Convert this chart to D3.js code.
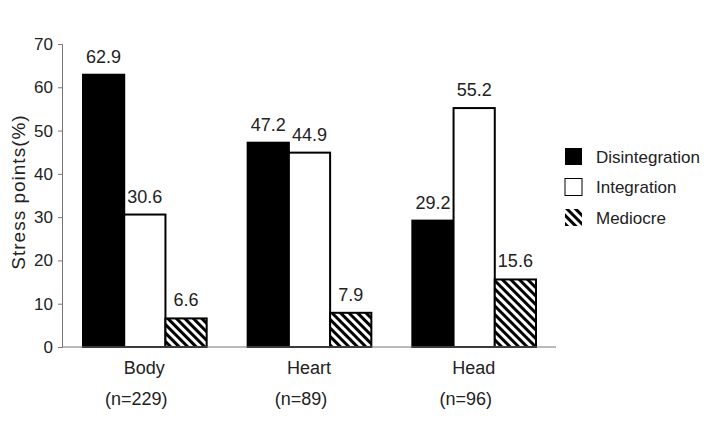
<!DOCTYPE html>
<html>
<head>
<meta charset="utf-8">
<script src="https://cdn.jsdelivr.net/npm/d3@7"></script>
<style>
  body { margin: 0; background: #fff; }
  text { font-family: "Liberation Sans", Arial, sans-serif; fill: #222; }
</style>
</head>
<body>
<div id="chart"></div>
<script>
// data
let groups = ["Body", "Heart", "Head"];
let groupN = ["(n=229)", "(n=89)", "(n=96)"];
let seriesNames = ["Disintegration", "Integration", "Mediocre"];
let disintegration = [62.9, 47.2, 29.2];
let integration = [30.6, 44.9, 55.2];
let mediocre = [6.6, 7.9, 15.6];
let yTicks = [0, 10, 20, 30, 40, 50, 60, 70];

let seriesValues = [disintegration, integration, mediocre];

let width = 707,
    height = 426;

let svg = d3.select("#chart").append("svg")
  .attr("width", width)
  .attr("height", height);

// hatch for Mediocre
let defs = svg.append("defs");
defs.append("pattern")
  .attr("id", "hatch")
  .attr("patternUnits", "userSpaceOnUse")
  .attr("width", 6)
  .attr("height", 6)
  .attr("patternTransform", "rotate(-45)")
  .call(p => {
    p.append("rect").attr("width", 6).attr("height", 6).attr("fill", "#fff");
    p.append("rect").attr("width", 3).attr("height", 6).attr("fill", "#000");
  });

let fills = ["#000", "#fff", "url(#hatch)"];

let y = d3.scaleLinear().domain([0, 70]).range([347, 44]);
let x0 = d3.scaleBand().domain(groups).range([62, 556]).padding(0);
let x1 = d3.scaleBand().domain(seriesNames)
  .range([21, x0.bandwidth() - 20]).padding(0);

// y axis
let yAxis = svg.append("g")
  .attr("transform", "translate(62,0)")
  .call(d3.axisLeft(y).tickValues(yTicks).tickSize(4).tickPadding(5));
yAxis.select(".domain").attr("stroke", "#777");
yAxis.selectAll(".tick line").attr("stroke", "#777");
yAxis.selectAll(".tick text")
  .style("font-family", "Liberation Sans, Arial, sans-serif")
  .style("font-size", "17px")
  .attr("fill", "#222");

svg.append("text")
  .attr("transform", "translate(25,192) rotate(-90)")
  .attr("text-anchor", "middle")
  .style("font-size", "19px")
  .style("letter-spacing", "1px")
  .text("Stress points(%)");

// bars
let rows = [];
groups.forEach((g, gi) => {
  seriesNames.forEach((s, si) => {
    rows.push({ g: g, s: s, si: si, v: seriesValues[si][gi] });
  });
});

let plot = svg.append("g");
let bar = plot.selectAll("g.bar").data(rows).enter().append("g").attr("class", "bar");

bar.append("rect")
  .attr("x", d => x0(d.g) + x1(d.s))
  .attr("y", d => y(d.v))
  .attr("width", x1.bandwidth())
  .attr("height", d => y(0) - y(d.v))
  .attr("fill", d => fills[d.si])
  .attr("stroke", "#000")
  .attr("stroke-width", 2);

bar.append("text")
  .attr("x", d => x0(d.g) + x1(d.s) + x1.bandwidth() / 2)
  .attr("y", d => y(d.v) - 12)
  .attr("text-anchor", "middle")
  .style("font-size", "18px")
  .text(d => d.v.toFixed(1));

// x axis line
svg.append("line")
  .attr("x1", 62).attr("x2", 556)
  .attr("y1", y(0)).attr("y2", y(0))
  .attr("stroke", "#777");

svg.selectAll("text.cat").data(groups).enter().append("text")
  .attr("class", "cat")
  .attr("x", d => x0(d) + x0.bandwidth() / 2)
  .attr("y", 374)
  .attr("text-anchor", "middle")
  .style("font-size", "18px")
  .text(d => d);

svg.selectAll("text.n").data(groupN).enter().append("text")
  .attr("class", "n")
  .attr("x", (d, i) => x0(groups[i]) + x0.bandwidth() / 2 - 8)
  .attr("y", 405)
  .attr("text-anchor", "middle")
  .style("font-size", "18px")
  .text(d => d);

// legend
let legend = svg.append("g").attr("transform", "translate(565,148)");
let item = legend.selectAll("g").data(seriesNames).enter().append("g")
  .attr("transform", (d, i) => "translate(0," + i * 30.5 + ")");
item.append("rect")
  .attr("width", 17).attr("height", 17)
  .attr("fill", (d, i) => fills[i])
  .attr("stroke", "#000")
  .attr("stroke-width", (d, i) => i === 1 ? 1 : 0);
item.append("text")
  .attr("x", 31)
  .attr("y", 9)
  .attr("dy", "0.35em")
  .style("font-size", "17px")
  .text(d => d);
</script>
</body>
</html>
